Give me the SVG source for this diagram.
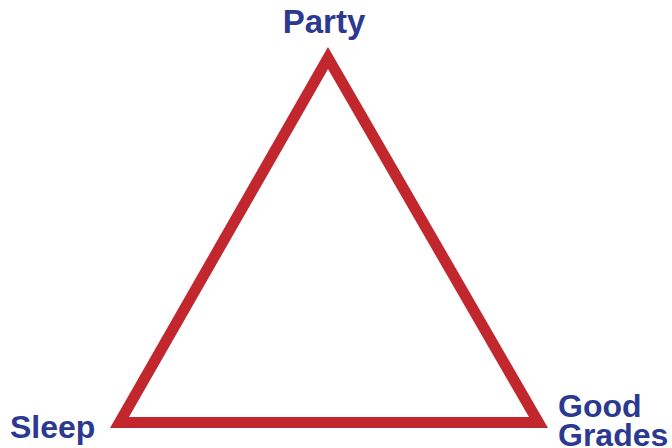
<svg xmlns="http://www.w3.org/2000/svg" width="672" height="448" viewBox="0 0 672 448">
<style>
.lbl{font-family:"Liberation Sans",Arial,sans-serif;font-weight:bold;fill:#2B3990;}
</style>
<rect width="672" height="448" fill="#ffffff"/>
<g id="connectors">
<polygon points="328,58 119.5,422.5 538.5,422.5" fill="none" stroke="#C1272D" stroke-width="11" stroke-linejoin="miter" stroke-miterlimit="10"/>
</g>
<g id="party"><text class="lbl" x="324" y="33" font-size="33" text-anchor="middle">Party</text></g>
<g id="sleep"><text class="lbl" x="10" y="438" font-size="32">Sleep</text></g>
<g id="goodgrades"><text class="lbl" x="558" y="417" font-size="32">Good</text><text class="lbl" x="558" y="446" font-size="32">Grades</text></g>
</svg>
